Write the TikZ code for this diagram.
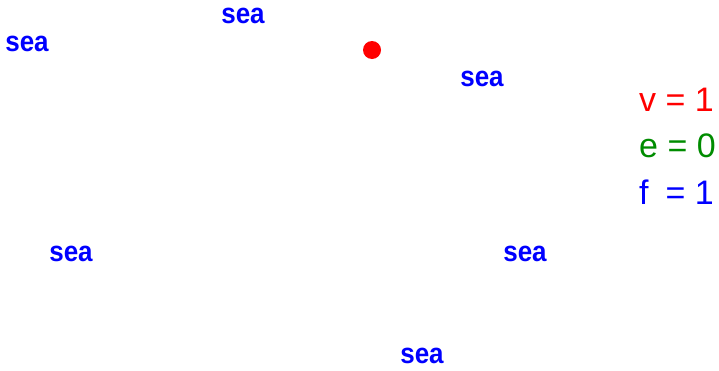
\documentclass[tikz,border=0pt]{standalone}
\usepackage{fontspec}
\setmainfont{Liberation Sans}
\definecolor{pblue}{RGB}{0,0,255}
\definecolor{pred}{RGB}{255,0,0}
\definecolor{pgreen}{RGB}{0,140,0}
\tikzset{
  sealbl/.style={text=pblue, inner sep=0pt, font=\fontsize{26}{26}\selectfont\bfseries},
  eqlbl/.style={anchor=west, inner sep=0pt, font=\fontsize{34}{34}\selectfont},
}
\begin{document}
\begin{tikzpicture}[x=1pt,y=-1pt]
\useasboundingbox (0,0) rectangle (719,370);
\node[sealbl] (s1) at (243,16) {\scalebox{1}[1.1]{sea}};
\node[sealbl] (s2) at (27,44) {\scalebox{1}[1.1]{sea}};
\node[sealbl] (s3) at (482,79) {\scalebox{1}[1.1]{sea}};
\node[sealbl] (s4) at (71,254) {\scalebox{1}[1.1]{sea}};
\node[sealbl] (s5) at (525,254) {\scalebox{1}[1.1]{sea}};
\node[sealbl] (s6) at (422,356) {\scalebox{1}[1.1]{sea}};
\fill[pred] (372,50) circle (9) coordinate (dot);
\node[eqlbl, text=pred] (v) at (639,100) {v = 1};
\node[eqlbl, text=pgreen] (e) at (639,146) {e = 0};
\node[eqlbl, text=pblue] (f) at (639,192) {\rlap{f}\hphantom{v} = 1};
\end{tikzpicture}
\end{document}
